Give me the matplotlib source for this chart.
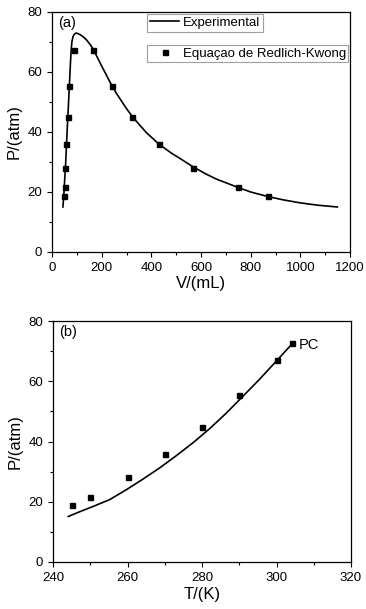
import matplotlib
matplotlib.use("Agg")
import matplotlib.pyplot as plt
from matplotlib.ticker import MultipleLocator
from matplotlib.lines import Line2D

plt.rcParams['font.family'] = ['Liberation Sans', 'DejaVu Sans']

# (a) P-V
v_exp = [44, 48, 51, 55, 58, 61, 64.5, 68, 71, 74, 77, 80, 85, 91, 98, 110, 125,
         140, 155, 165, 180, 200, 220, 240, 260, 280, 300, 325, 350, 380, 430,
         480, 515, 566, 620, 662, 750, 800, 869, 930, 998, 1070, 1149]
p_exp = [15.0, 19.5, 24.0, 29.5, 35.1, 40.5, 46.2, 52.0, 57.3, 62.5, 67.0, 70.0,
         71.9, 72.7, 73.0, 72.6, 71.8, 70.6, 69.0, 67.7, 65.3, 62.0, 58.8, 55.6,
         52.8, 50.3, 47.8, 45.0, 42.6, 39.8, 36.0, 33.0, 31.2, 28.5, 26.0, 24.3,
         21.5, 20.0, 18.5, 17.4, 16.4, 15.6, 15.0]
v_rk = [48, 51, 54, 58, 63, 70, 87, 167, 241, 324, 429, 566, 750, 869]
p_rk = [18.7, 21.5, 28.1, 35.9, 44.9, 55.4, 67.4, 67.4, 55.4, 44.9, 35.9, 28.1, 21.5, 18.7]

# (b) P-T
t_exp = [244.1, 247, 250.7, 255.2, 259.7, 264, 268.6, 273, 277.5, 282, 286.5,
         290.9, 295.4, 299.9, 303.5]
pt_exp = [15.1, 16.6, 18.4, 20.7, 24.0, 27.4, 31.2, 35.2, 39.5, 44.2, 49.4,
          54.9, 60.6, 66.6, 71.5]
t_rk = [245, 250, 260, 270, 280, 290, 300, 304.2]
pt_rk = [18.8, 21.5, 28.2, 35.9, 44.9, 55.4, 67.2, 72.8]

fig = plt.figure(figsize=(3.66, 6.09), dpi=100)
W, H = 366, 609
ax1 = fig.add_axes([52/W, 1-252/H, 298/W, 240/H])
ax2 = fig.add_axes([53/W, 1-562/H, 298/W, 241/H])


def style(ax):
    ax.tick_params(which='both', direction='out', top=False, right=False, labelsize=9.5, width=0.8)
    ax.tick_params(which='major', length=3.5)
    ax.tick_params(which='minor', length=2)
    for s in ax.spines.values():
        s.set_linewidth(0.9)


ax1.plot(v_exp, p_exp, color='black', lw=1.2, solid_joinstyle='round')
ax1.plot(v_rk, p_rk, 's', color='black', ms=3.6)
ax1.set_xlim(0, 1200)
ax1.set_ylim(0, 80)
ax1.xaxis.set_major_locator(MultipleLocator(200))
ax1.xaxis.set_minor_locator(MultipleLocator(100))
ax1.yaxis.set_major_locator(MultipleLocator(20))
ax1.yaxis.set_minor_locator(MultipleLocator(10))
style(ax1)
ax1.set_xlabel('V/(mL)', fontsize=12, labelpad=2)
ax1.set_ylabel('P/(atm)', fontsize=12, labelpad=4)
ax1.text(0.02, 0.985, '(a)', transform=ax1.transAxes, ha='left', va='top', fontsize=10.5)

h1 = Line2D([], [], color='black', lw=1.2)
h2 = Line2D([], [], ls='', marker='s', color='black', ms=3.6)
leg1 = ax1.legend([h1], ['Experimental'], loc='upper left', bbox_to_anchor=(0.318, 0.992),
                  fontsize=9.5, frameon=True, fancybox=False, handlelength=2.2,
                  borderpad=0.22, handletextpad=0.3, borderaxespad=0)
leg1.get_frame().set_edgecolor('#888888')
leg1.get_frame().set_linewidth(0.8)
ax1.add_artist(leg1)
leg2 = ax1.legend([h2], ['Equaçao de Redlich-Kwong'], loc='upper left', bbox_to_anchor=(0.318, 0.8625),
                  fontsize=9.5, frameon=True, fancybox=False, handlelength=2.4,
                  borderpad=0.18, handletextpad=0.15, borderaxespad=0)
leg2.get_frame().set_edgecolor('#888888')
leg2.get_frame().set_linewidth(0.8)

ax2.plot(t_exp, pt_exp, color='black', lw=1.2, solid_joinstyle='round')
ax2.plot(t_rk, pt_rk, 's', color='black', ms=3.6)
ax2.set_xlim(240, 320)
ax2.set_ylim(0, 80)
ax2.xaxis.set_major_locator(MultipleLocator(20))
ax2.xaxis.set_minor_locator(MultipleLocator(10))
ax2.yaxis.set_major_locator(MultipleLocator(20))
ax2.yaxis.set_minor_locator(MultipleLocator(10))
style(ax2)
ax2.set_xlabel('T/(K)', fontsize=12, labelpad=2)
ax2.set_ylabel('P/(atm)', fontsize=12, labelpad=4)
ax2.text(0.02, 0.985, '(b)', transform=ax2.transAxes, ha='left', va='top', fontsize=10.5)
ax2.text(306, 72, 'PC', ha='left', va='center', fontsize=10.5)

fig.savefig('out.png', dpi=100)
